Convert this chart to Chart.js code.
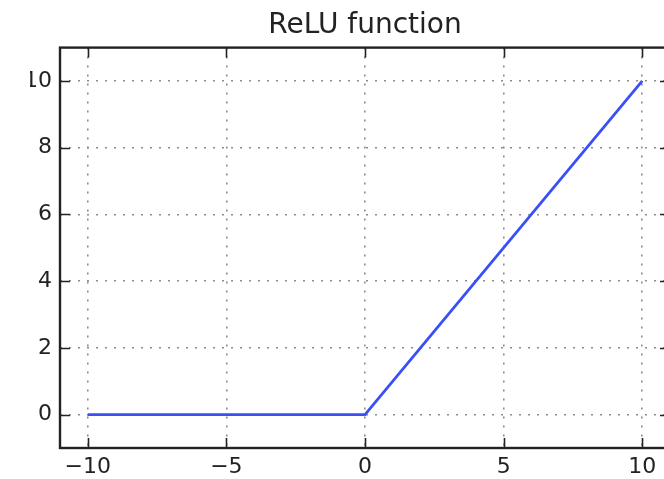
<!DOCTYPE html>
<html>
<head>
<meta charset="utf-8">
<script src="https://cdn.jsdelivr.net/npm/chart.js@4/dist/chart.umd.min.js"></script>
<style>
  html, body { margin: 0; padding: 0; overflow: hidden; background: #fff; }
  body { width: 664px; height: 479px; position: relative; }
  #reluChart { position: absolute; left: 30px; top: 0; width: 660px; height: 479px; }
</style>
</head>
<body>
<canvas id="reluChart" width="660" height="479"></canvas>
<script>
// ReLU: y = max(0, x)
const xValues = [-10, 0, 10];
const yValues = [0, 0, 10];
const xTicks = [-10, -5, 0, 5, 10];
const xTickLabels = ['\u221210', '\u22125', '0', '5', '10'];
const yTicks = [0, 2, 4, 6, 8, 10];
const yTickLabels = ['0', '2', '4', '6', '8', '10'];

const INK = '#222';
const GRID = '#8c8c8c';

// frame + inward tick marks, matplotlib classic look
const framePlugin = {
  id: 'frame',
  afterDraw(chart) {
    const { ctx, chartArea: a, scales } = chart;
    const len = 10;
    ctx.save();
    ctx.strokeStyle = INK;
    ctx.lineWidth = 1.6;
    ctx.beginPath();
    xTicks.forEach(v => {
      const px = Math.round(scales.x.getPixelForValue(v)) + 0.5;
      ctx.moveTo(px, a.bottom); ctx.lineTo(px, a.bottom - len);
      ctx.moveTo(px, a.top); ctx.lineTo(px, a.top + len);
    });
    yTicks.forEach(v => {
      const py = Math.round(scales.y.getPixelForValue(v)) + 0.5;
      ctx.moveTo(a.left, py); ctx.lineTo(a.left + len, py);
      ctx.moveTo(a.right, py); ctx.lineTo(a.right - len, py);
    });
    ctx.stroke();
    ctx.lineWidth = 2.4;
    ctx.strokeRect(a.left, a.top, a.right - a.left, a.bottom - a.top);
    ctx.restore();
  }
};

new Chart(document.getElementById('reluChart'), {
  type: 'line',
  data: {
    datasets: [{
      data: xValues.map((x, i) => ({ x: x, y: yValues[i] })),
      borderColor: '#3a4ff5',
      borderWidth: 2.8,
      pointRadius: 0,
      tension: 0,
      fill: false
    }]
  },
  options: {
    responsive: false,
    animation: false,
    layout: { padding: { left: 0, right: 20, top: 0, bottom: 0 } },
    plugins: {
      legend: { display: false },
      tooltip: { enabled: false },
      title: {
        display: true,
        text: 'ReLU function',
        fullSize: false,
        color: INK,
        font: { family: 'DejaVu Sans', size: 28, weight: 'normal' },
        padding: { top: 9, bottom: 5 }
      }
    },
    scales: {
      x: {
        type: 'linear',
        min: -11,
        max: 11,
        afterBuildTicks: s => { s.ticks = xTicks.map(v => ({ value: v })); },
        afterFit: s => { s.height = 31; },
        grid: { color: GRID, lineWidth: 1.6, drawTicks: false },
        border: { display: false, dash: [2, 7] },
        ticks: {
          color: INK,
          padding: 6,
          maxRotation: 0,
          font: { family: 'DejaVu Sans', size: 22 },
          callback: v => xTickLabels[xTicks.indexOf(v)]
        }
      },
      y: {
        type: 'linear',
        min: -1,
        max: 11,
        afterBuildTicks: s => { s.ticks = yTicks.map(v => ({ value: v })); },
        afterFit: s => { s.width = 30; },
        grid: { color: GRID, lineWidth: 1.6, drawTicks: false },
        border: { display: false, dash: [2, 7] },
        ticks: {
          color: INK,
          padding: 8,
          font: { family: 'DejaVu Sans', size: 22 },
          callback: v => yTickLabels[yTicks.indexOf(v)]
        }
      }
    }
  },
  plugins: [framePlugin]
});
</script>
</body>
</html>
